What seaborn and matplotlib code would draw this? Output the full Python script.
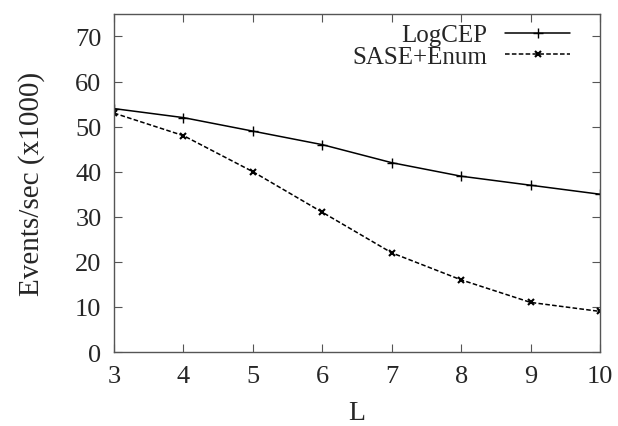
import matplotlib
matplotlib.use("Agg")
import matplotlib.pyplot as plt
import seaborn as sns

# values
L_values = [3, 4, 5, 6, 7, 8, 9, 10]
logcep = [54, 52, 49, 46, 42, 39, 37, 35]
sase_enum = [53, 48, 40, 31, 22, 16, 11, 9]

sns.set_style("ticks")
plt.rcParams["font.family"] = ["Liberation Serif", "DejaVu Serif"]

fig = plt.figure(figsize=(6.18, 4.27), dpi=100)
ax = fig.add_axes([0.1845, 0.1733, 0.7865, 0.7917])

sns.lineplot(x=L_values, y=logcep, color="black", linewidth=1.1,
             linestyle="-", marker="+", markersize=7, markeredgewidth=1.0,
             markeredgecolor="black", label="LogCEP", ax=ax)
sns.lineplot(x=L_values, y=sase_enum, color="black", linewidth=1.1,
             linestyle=(0, (3, 1.5)), marker="x", markersize=5,
             markeredgewidth=1.5, markeredgecolor="black",
             label="SASE+Enum", ax=ax)

ax.set_xlim(3, 10)
ax.set_ylim(0, 75)
ax.set_xticks(L_values)
ax.set_yticks(range(0, 80, 10))
ax.tick_params(direction="in", top=True, right=True, labelsize=19, length=6,
               width=0.8, color="#555555", pad=9)
for s in ax.spines.values():
    s.set_color("#555555")
    s.set_linewidth(1.0)

ax.set_xlabel("L", fontsize=20, labelpad=10)
ax.set_ylabel("Events/sec (x1000)", fontsize=21, labelpad=22)

leg = ax.legend(loc="upper right", bbox_to_anchor=(0.959, 1.0),
                frameon=False, markerfirst=False, fontsize=18,
                handlelength=2.6, borderaxespad=0.0, labelspacing=-0.05,
                handletextpad=0.7)
for t in leg.get_texts():
    t.set_ha("right")

fig.savefig("out.png", dpi=100)
